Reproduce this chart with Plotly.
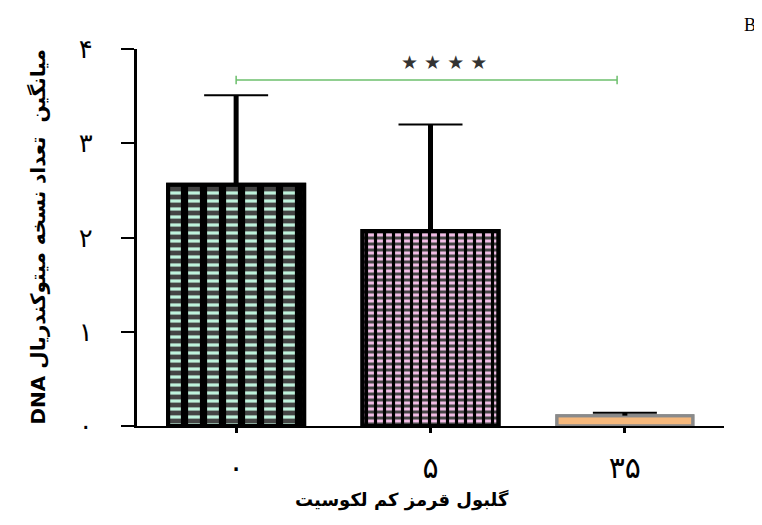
import plotly.graph_objects as go

# ---- data ----
categories = ["۰", "۵", "۳۵"]
means = [2.56, 2.07, 0.11]
err_upper = [0.95, 1.13, 0.03]
y_tick_vals = [0, 1, 2, 3, 4]
y_tick_text = ["۰", "۱", "۲", "۳", "۴"]
sig_label = "★ ★ ★ ★"
sig_level = 3.67
sig_from_idx = 0
sig_to_idx = 1.96
x_title = "گلبول قرمز کم لکوسیت"
y_title = "\u202bمیانگین  تعداد نسخه میتوکندریال DNA\u202c"
panel_label = "B"

# ---- styles ----
fill_col = ["#bff2dc", "#f2bde6", "#f5b87c"]
border_col = ["#000000", "#000000", "#8a8a8a"]
border_w = [4, 4, 3]

zeros = [0] * len(categories)

fig = go.Figure()

# base: light fill crossed by black horizontal lines, with error caps
fig.add_trace(go.Bar(
    x=categories, y=means, width=0.70,
    marker=dict(
        color=fill_col,
        line=dict(color=border_col, width=border_w),
        pattern=dict(shape=["-", "-", ""], fgcolor="#000000",
                     size=[8, 6, 8], solidity=[0.6, 0.5, 0.1], fillmode="overlay",
                     fgopacity=1),
    ),
    error_y=dict(type="data", symmetric=False, array=err_upper, arrayminus=zeros,
                 color="black", thickness=2, width=32),
    showlegend=False, hoverinfo="skip",
))

# overlay: vertical black dividers to break the stripes into cells, thick error stems
fig.add_trace(go.Bar(
    x=categories, y=means, width=0.70,
    marker=dict(
        color="rgba(0,0,0,0)",
        line=dict(color=border_col, width=border_w),
        pattern=dict(shape=["|", "|", ""], fgcolor="#000000",
                     size=[19, 9, 8], solidity=[0.38, 0.35, 0.1], fillmode="overlay",
                     fgopacity=1),
    ),
    error_y=dict(type="data", symmetric=False, array=err_upper, arrayminus=zeros,
                 color="black", thickness=5, width=0),
    showlegend=False, hoverinfo="skip",
))

# significance bracket
sig_col = "#6cbf6c"
fig.add_shape(type="line", xref="x", yref="y", x0=sig_from_idx, x1=sig_to_idx,
              y0=sig_level, y1=sig_level, line=dict(color=sig_col, width=1.5))
for xe in (sig_from_idx, sig_to_idx):
    fig.add_shape(type="line", xref="x", yref="y", x0=xe, x1=xe,
                  y0=sig_level - 0.045, y1=sig_level + 0.045, line=dict(color=sig_col, width=1.5))
fig.add_annotation(x=1.07, y=sig_level + 0.19, xref="x", yref="y", text=sig_label,
                   showarrow=False, font=dict(size=19, color="#333333", family="DejaVu Sans"))

# titles
fig.add_annotation(x=0, y=0.5, xref="paper", yref="paper", xshift=-100, textangle=-90,
                   xanchor="center", yanchor="middle",
                   text="<b>" + y_title + "</b>", showarrow=False,
                   font=dict(size=20, color="black", family="DejaVu Sans"))
fig.add_annotation(x=0.451, y=0, xref="paper", yref="paper", yshift=-74,
                   xanchor="center", yanchor="middle",
                   text="<b>" + x_title + "</b>", showarrow=False,
                   font=dict(size=18, color="black", family="DejaVu Sans"))
fig.add_annotation(x=1.044, y=1.064, xref="paper", yref="paper", text=panel_label,
                   xanchor="center", yanchor="middle",
                   showarrow=False, font=dict(size=18, color="black", family="Liberation Serif"))

# page has an 8px body margin, so the figure's own margins are offset by that
fig.update_layout(
    width=762, height=525,
    margin=dict(l=129, r=46, t=41, b=107),
    barmode="overlay",
    plot_bgcolor="white", paper_bgcolor="white",
    font=dict(family="DejaVu Sans", color="black"),
    xaxis=dict(type="category", range=[-0.51, 2.51], showgrid=False, zeroline=False,
               showline=True, linecolor="black", linewidth=2,
               ticks="outside", ticklen=5, tickwidth=3, tickcolor="black",
               tickfont=dict(size=30), ticklabelstandoff=9),
    yaxis=dict(range=[0, 4], showgrid=False, zeroline=False,
               showline=True, linecolor="black", linewidth=3,
               tickvals=y_tick_vals, ticktext=y_tick_text,
               ticks="outside", ticklen=13, tickwidth=2, tickcolor="black",
               tickfont=dict(size=26), ticklabelstandoff=23),
)

fig.write_html("out.html")
